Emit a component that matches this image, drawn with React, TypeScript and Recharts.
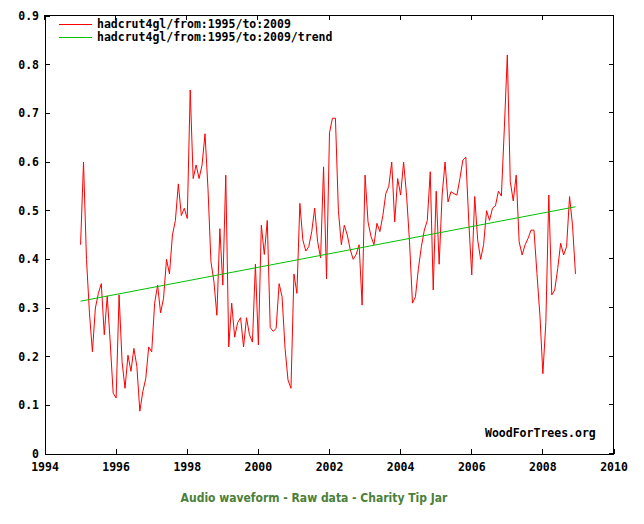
import { LineChart, Line, XAxis, YAxis } from 'recharts';

// monthly anomalies, Jan..Dec
const y1995 = [0.43, 0.6, 0.4, 0.29, 0.21, 0.3, 0.33, 0.35, 0.245, 0.325, 0.23, 0.125];
const y1996 = [0.115, 0.327, 0.19, 0.135, 0.203, 0.17, 0.217, 0.18, 0.088, 0.128, 0.155, 0.22];
const y1997 = [0.21, 0.31, 0.347, 0.29, 0.32, 0.4, 0.37, 0.45, 0.48, 0.555, 0.49, 0.505];
const y1998 = [0.484, 0.748, 0.566, 0.594, 0.566, 0.594, 0.658, 0.545, 0.395, 0.354, 0.285, 0.463];
const y1999 = [0.347, 0.573, 0.22, 0.31, 0.24, 0.27, 0.28, 0.22, 0.28, 0.245, 0.23, 0.39];
const y2000 = [0.224, 0.47, 0.41, 0.48, 0.26, 0.252, 0.258, 0.35, 0.323, 0.217, 0.152, 0.135];
const y2001 = [0.37, 0.33, 0.515, 0.44, 0.417, 0.426, 0.457, 0.505, 0.436, 0.403, 0.59, 0.36];
const y2002 = [0.66, 0.69, 0.69, 0.5, 0.43, 0.47, 0.45, 0.42, 0.4, 0.41, 0.43, 0.306];
const y2003 = [0.573, 0.477, 0.447, 0.43, 0.474, 0.457, 0.49, 0.535, 0.55, 0.6, 0.477, 0.566];
const y2004 = [0.532, 0.6, 0.532, 0.436, 0.31, 0.323, 0.381, 0.426, 0.46, 0.48, 0.58, 0.337];
const y2005 = [0.54, 0.39, 0.532, 0.6, 0.518, 0.539, 0.535, 0.532, 0.566, 0.604, 0.61, 0.477];
const y2006 = [0.368, 0.529, 0.44, 0.4, 0.43, 0.5, 0.48, 0.505, 0.51, 0.54, 0.53, 0.67];
const y2007 = [0.82, 0.56, 0.52, 0.573, 0.436, 0.409, 0.43, 0.443, 0.46, 0.46, 0.371, 0.285];
const y2008 = [0.165, 0.27, 0.532, 0.327, 0.337, 0.381, 0.433, 0.409, 0.426, 0.529, 0.47, 0.37];

const startYear = 1995;
const years = [y1995, y1996, y1997, y1998, y1999, y2000, y2001, y2002, y2003, y2004, y2005, y2006, y2007, y2008];

// linear trend end points
const trendX = [1995, 2008.92];
const trendY = [0.314, 0.508];

const xTicks = [1994, 1996, 1998, 2000, 2002, 2004, 2006, 2008, 2010];
const yTicks = [0, 0.1, 0.2, 0.3, 0.4, 0.5, 0.6, 0.7, 0.8, 0.9];
const xMin = 1994;
const xMax = 2010;
const yMax = 0.9;

const series = years.flatMap((vals, yi) =>
  vals.map((v, m) => ({ x: startYear + yi + m / 12, v }))
);
const trend = trendX.map((x, i) => ({ x, v: trendY[i] }));

// plot box (chart size minus margins/axis sizes)
const W = 644;
const H = 524;
const M = { top: 16, right: 30, left: 0, bottom: 50 };
const yAxisW = 45;
const xAxisH = 20;
const box = { x: M.left + yAxisW, y: M.top, w: W - M.left - yAxisW - M.right, h: H - M.top - M.bottom - xAxisH };

const mono = 'DejaVu Sans Mono, monospace';
const tickFont = { fill: '#000', fontSize: 11.5, fontFamily: mono, fontWeight: 'bold' as const };
const axisLine = { stroke: '#000', shapeRendering: 'crispEdges' };
const tickLine = { stroke: '#000', shapeRendering: 'crispEdges' };

// top and right sides of the frame, with inward ticks
function Frame() {
  const px = (t: number) => Math.round(box.x + ((t - xMin) / (xMax - xMin)) * box.w) - 1;
  const py = (v: number) => Math.round(box.y + box.h - (v / yMax) * box.h) - 1;
  const right = box.x + box.w - 1;
  return (
    <>
      <div style={{ position: 'absolute', left: box.x - 1, top: box.y - 1, width: box.w + 1, height: 1, background: '#000' }} />
      <div style={{ position: 'absolute', left: right, top: box.y - 1, width: 1, height: box.h + 1, background: '#000' }} />
      {xTicks.map((t) => (
        <div key={`tx${t}`} style={{ position: 'absolute', left: px(t), top: box.y - 1, width: 1, height: 5, background: '#000' }} />
      ))}
      {yTicks.map((t) => (
        <div key={`ty${t}`} style={{ position: 'absolute', left: right - 4, top: py(t), width: 5, height: 1, background: '#000' }} />
      ))}
    </>
  );
}

export default function App() {
  return (
    <div style={{ position: 'absolute', left: 0, top: 0, width: W, height: H, background: '#fff' }}>
      <LineChart width={W} height={H} data={series} margin={M}>
        <XAxis
          dataKey="x"
          type="number"
          domain={[xMin, xMax]}
          ticks={xTicks}
          height={xAxisH}
          tickSize={-5}
          tickMargin={14}
          tick={tickFont}
          axisLine={axisLine}
          tickLine={tickLine}
          allowDataOverflow
        />
        <YAxis
          domain={[0, yMax]}
          ticks={yTicks}
          width={yAxisW}
          tickSize={-5}
          tickMargin={11}
          tick={tickFont}
          tickFormatter={(v: number) => (v === 0 ? '0' : v.toFixed(1))}
          axisLine={axisLine}
          tickLine={tickLine}
        />
        <Line dataKey="v" stroke="#ff0000" strokeWidth={1} dot={false} isAnimationActive={false} />
        <Line data={trend} dataKey="v" stroke="#00c000" strokeWidth={1} dot={false} isAnimationActive={false} />
      </LineChart>

      <Frame />

      {/* legend */}
      <div style={{ position: 'absolute', left: 59, top: 18, fontFamily: mono, fontWeight: 'bold', fontSize: 11.5, lineHeight: '13px' }}>
        {[
          { label: 'hadcrut4gl/from:1995/to:2009', color: '#ff0000' },
          { label: 'hadcrut4gl/from:1995/to:2009/trend', color: '#00c000' },
        ].map((item) => (
          <div key={item.label} style={{ display: 'flex', alignItems: 'center', height: 13 }}>
            <div style={{ width: 33, height: 1, background: item.color }} />
            <span style={{ marginLeft: 5, whiteSpace: 'pre' }}>{item.label}</span>
          </div>
        ))}
      </div>

      <div style={{ position: 'absolute', left: 485, top: 426, fontFamily: mono, fontWeight: 'bold', fontSize: 11.5 }}>
        WoodForTrees.org
      </div>

      <div
        style={{
          position: 'absolute',
          left: 0,
          width: 628,
          top: 491,
          textAlign: 'center',
          fontFamily: 'DejaVu Sans Condensed, DejaVu Sans, sans-serif',
          fontWeight: 'bold',
          fontSize: 12,
          color: '#4a803a',
        }}
      >
        Audio waveform - Raw data - Charity Tip Jar
      </div>
    </div>
  );
}
